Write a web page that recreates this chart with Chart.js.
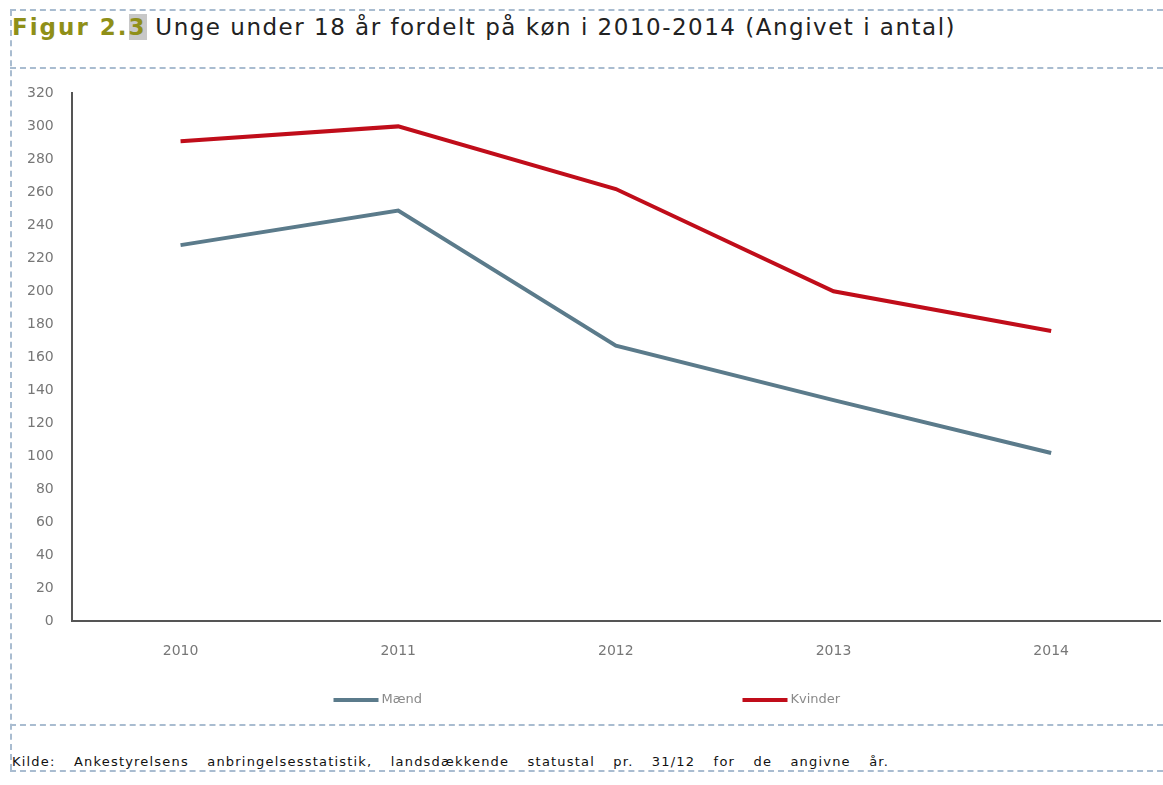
<!DOCTYPE html>
<html>
<head>
<meta charset="utf-8">
<script src="https://cdn.jsdelivr.net/npm/chart.js@4"></script>
<style>
  body { margin: 0; background: #fff; font-family: "DejaVu Sans", Verdana, sans-serif; }
  #wrap { position: relative; width: 1163px; height: 785px; }
  .hdash { position: absolute; left: 10px; right: 0; border-top: 2px dashed #a9bcd0; }
  .vdash { position: absolute; left: 10px; top: 10px; bottom: 15px; border-left: 2px dashed #a9bcd0; }
  #title { position: absolute; left: 12px; top: 14px; font-size: 23px; letter-spacing: 1.5px; color: #222; white-space: nowrap; }
  #title b { color: #8f8f18; letter-spacing: 2px; }
  #title .hl { background: #c8c8c8; }
  #note { position: absolute; left: 12px; top: 754px; font-size: 13px; letter-spacing: 1.2px; color: #111; word-spacing: 13px; white-space: nowrap; }
  #box { position: absolute; left: 0; top: 67px; width: 1163px; height: 657px; }
</style>
</head>
<body>
<div id="wrap">
  <div class="hdash" style="top:9px"></div>
  <div class="hdash" style="top:67px"></div>
  <div class="hdash" style="top:724px"></div>
  <div class="hdash" style="top:770px"></div>
  <div class="vdash"></div>
  <div id="title"><b>Figur 2.<span class="hl">3</span></b> Unge under 18 år fordelt på køn i 2010-2014 (Angivet i antal)</div>
  <div id="box"><canvas id="lineChart"></canvas></div>
  <div id="note">Kilde: Ankestyrelsens anbringelsesstatistik, landsdækkende statustal pr. 31/12 for de angivne år.</div>
</div>
<script>
const years = ['2010', '2011', '2012', '2013', '2014'];
const maend = [228, 249, 167, 134, 102];
const kvinder = [291, 300, 262, 200, 176];

// legend drawn by hand: the two items sit far apart, which the built-in legend can't do
const wideLegend = {
  id: 'wideLegend',
  afterDraw(chart) {
    const c = chart.ctx;
    const y = chart.height - 24;
    c.save();
    c.font = '13px "DejaVu Sans"';
    c.textBaseline = 'middle';
    chart.data.datasets.forEach((ds, i) => {
      const x = chart.width / 2 - 248 + i * 409;
      c.strokeStyle = ds.borderColor;
      c.lineWidth = 4;
      c.beginPath();
      c.moveTo(x, y);
      c.lineTo(x + 45, y);
      c.stroke();
      c.fillStyle = '#8a8a8a';
      c.fillText(ds.label, x + 48, y);
    });
    c.restore();
  }
};

const ctx = document.getElementById('lineChart').getContext('2d');
const lineChart = new Chart(ctx, {
  type: 'line',
  data: {
    labels: years,
    datasets: [{
      label: 'Mænd',
      data: maend,
      borderColor: '#5b7b8b',
      backgroundColor: '#5b7b8b',
      borderWidth: 4,
      pointRadius: 0,
      tension: 0
    }, {
      label: 'Kvinder',
      data: kvinder,
      borderColor: '#c00d1a',
      backgroundColor: '#c00d1a',
      borderWidth: 4,
      pointRadius: 0,
      tension: 0
    }]
  },
  options: {
    responsive: true,
    maintainAspectRatio: false,
    animation: false,
    layout: { padding: { left: 9, right: 3, top: 0, bottom: 42 } },
    scales: {
      x: {
        offset: true,
        grid: { display: false, drawTicks: false },
        border: { color: '#555', width: 2 },
        ticks: { color: '#777', font: { family: 'DejaVu Sans', size: 14 }, padding: 22 }
      },
      y: {
        min: 0,
        max: 320,
        grid: { display: false, drawTicks: false },
        border: { color: '#555', width: 2 },
        ticks: { stepSize: 20, color: '#777', font: { family: 'DejaVu Sans', size: 14 }, padding: 18 }
      }
    },
    plugins: {
      legend: { display: false },
      tooltip: { enabled: false }
    }
  },
  plugins: [wideLegend]
});
</script>
</body>
</html>
